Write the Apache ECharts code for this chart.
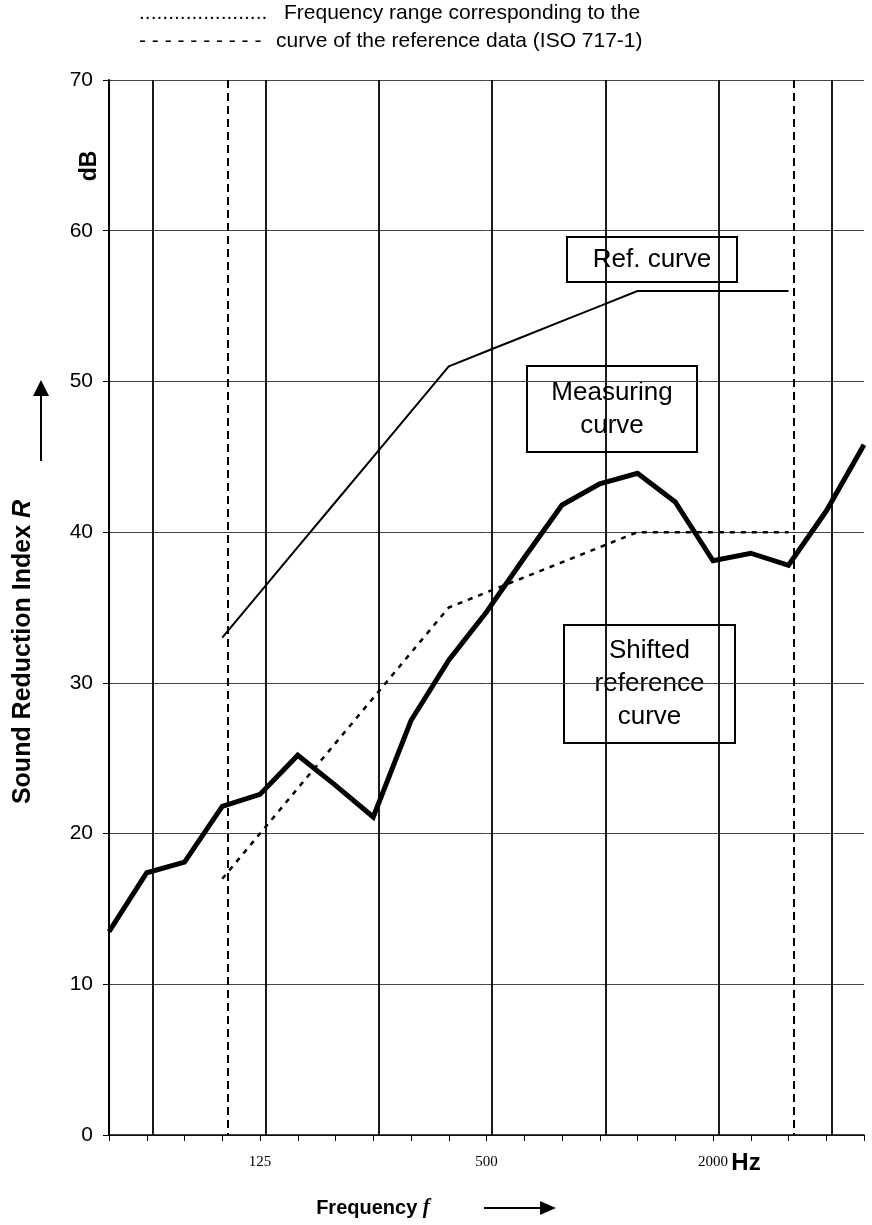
<!DOCTYPE html>
<html lang="en">
<head>
    <meta charset="UTF-8">
    <title>Sound Reduction Index</title>
    <script src="https://cdn.jsdelivr.net/npm/echarts@6/dist/echarts.min.js"></script>
    <style>
        html, body { margin: 0; padding: 0; background: #fff; }
        #main { width: 872px; height: 1225px; }
    </style>
</head>
<body>
    <div id="main"></div>
    <script>
        // 1/3 octave band centre frequencies (Hz)
        var freqs = ['50', '63', '80', '100', '125', '160', '200', '250', '315', '400', '500',
            '630', '800', '1000', '1250', '1600', '2000', '2500', '3150', '4000', '5000'];
        var xLabels = ['125', '500', '2000'];
        var octaveLines = ['63', '125', '250', '500', '1000', '2000', '4000'];
        var rangeLines = ['100', '3150'];

        // measured sound reduction index (dB)
        var measured = [13.5, 17.4, 18.1, 21.8, 22.6, 25.2, 23.2, 21.1, 27.5, 31.5, 34.7,
            38.3, 41.8, 43.2, 43.9, 42.0, 38.1, 38.6, 37.8, 41.4, 45.8];
        // reference curve ISO 717-1
        var refCurve = [null, null, null, 33, 36, 39, 42, 45, 48, 51, 52,
            53, 54, 55, 56, 56, 56, 56, 56, null, null];
        // shifted reference curve
        var shiftedRef = [null, null, null, 17, 20, 23, 26, 29, 32, 35, 36,
            37, 38, 39, 40, 40, 40, 40, 40, null, null];

        var myChart = echarts.init(document.getElementById('main'));

        var sans = 'Liberation Sans, Arial, sans-serif';

        function box(x, y, w, h, text) {
            return {
                type: 'group',
                z: 100,
                children: [{
                    type: 'rect',
                    shape: { x: x, y: y, width: w, height: h },
                    style: { fill: '#fff', stroke: '#000', lineWidth: 2 }
                }, {
                    type: 'text',
                    x: x + w / 2,
                    y: y + h / 2,
                    style: {
                        text: text,
                        align: 'center',
                        verticalAlign: 'middle',
                        fontSize: 26,
                        lineHeight: 33,
                        fontFamily: sans,
                        fill: '#000'
                    }
                }]
            };
        }

        var option = {
            animation: false,
            backgroundColor: '#fff',
            grid: [
                { left: 109, right: 8, top: 80, bottom: 90 },
                { left: 114.5, right: 2.5, top: 80, bottom: 90 }
            ],
            xAxis: [{
                type: 'category',
                gridIndex: 0,
                data: freqs,
                boundaryGap: false,
                axisLine: { lineStyle: { color: '#000', width: 1.5 } },
                axisTick: { show: true, interval: 0, length: 6, lineStyle: { color: '#000', width: 1 } },
                axisLabel: {
                    interval: function (i, v) { return xLabels.indexOf(v) >= 0; },
                    margin: 20,
                    fontSize: 15,
                    fontFamily: 'Liberation Serif, Times New Roman, serif',
                    color: '#000'
                },
                splitLine: { show: false }
            }, {
                type: 'category',
                gridIndex: 1,
                data: freqs,
                boundaryGap: false,
                axisLine: { show: false },
                axisTick: { show: false },
                axisLabel: { show: false },
                splitLine: {
                    show: true,
                    interval: function (i, v) { return octaveLines.indexOf(freqs[i]) >= 0; },
                    lineStyle: { color: '#000', width: 1.8 }
                }
            }, {
                type: 'category',
                gridIndex: 1,
                data: freqs,
                boundaryGap: false,
                axisLine: { show: false },
                axisTick: { show: false },
                axisLabel: { show: false },
                splitLine: {
                    show: true,
                    interval: function (i, v) { return rangeLines.indexOf(freqs[i]) >= 0; },
                    lineStyle: { color: '#000', width: 2, type: [8, 5] }
                }
            }],
            yAxis: [{
                type: 'value',
                gridIndex: 0,
                min: 0,
                max: 70,
                interval: 10,
                axisLine: { show: true, lineStyle: { color: '#000', width: 2 } },
                axisTick: { show: true, length: 6, lineStyle: { color: '#000', width: 1 } },
                axisLabel: { margin: 16, fontSize: 21, fontFamily: sans, color: '#000' },
                splitLine: { show: true, lineStyle: { color: '#444', width: 1 } }
            }, {
                type: 'value',
                gridIndex: 1,
                min: 0,
                max: 70,
                show: false
            }],
            series: [{
                name: 'Measuring curve',
                type: 'line',
                xAxisIndex: 0,
                yAxisIndex: 0,
                data: measured,
                symbol: 'none',
                z: 6,
                lineStyle: { color: '#000', width: 5, join: 'miter' }
            }, {
                name: 'Ref. curve',
                type: 'line',
                xAxisIndex: 0,
                yAxisIndex: 0,
                data: refCurve,
                symbol: 'none',
                z: 5,
                lineStyle: { color: '#000', width: 2 }
            }, {
                name: 'Shifted reference curve',
                type: 'line',
                xAxisIndex: 0,
                yAxisIndex: 0,
                data: shiftedRef,
                symbol: 'none',
                z: 5,
                lineStyle: { color: '#000', width: 2.5, type: [5, 6] }
            }],
            graphic: [
                // top key
                { type: 'text', x: 139, y: 13, style: { text: '......................', fontSize: 21, fontFamily: sans, fill: '#000', verticalAlign: 'middle' } },
                { type: 'text', x: 284, y: 13, style: { text: 'Frequency range corresponding to the', fontSize: 21, fontFamily: sans, fill: '#000', verticalAlign: 'middle' } },
                { type: 'text', x: 139, y: 41, style: { text: '- - - - - - - - - -', fontSize: 21, fontFamily: sans, fill: '#000', verticalAlign: 'middle' } },
                { type: 'text', x: 276, y: 41, style: { text: 'curve of the reference data (ISO 717-1)', fontSize: 21, fontFamily: sans, fill: '#000', verticalAlign: 'middle' } },
                // y axis titles
                {
                    type: 'text', x: 90, y: 166, rotation: Math.PI / 2,
                    style: { text: 'dB', fontSize: 23, fontWeight: 'bold', fontFamily: sans, fill: '#000', align: 'center', verticalAlign: 'middle' }
                },
                {
                    type: 'text', x: 23, y: 652, rotation: Math.PI / 2,
                    style: {
                        text: '{b|Sound Reduction Index }{i|R}',
                        align: 'center', verticalAlign: 'middle',
                        rich: {
                            b: { fontSize: 25, fontWeight: 'bold', fontFamily: sans, fill: '#000' },
                            i: { fontSize: 25, fontWeight: 'bold', fontStyle: 'italic', fontFamily: sans, fill: '#000' }
                        }
                    }
                },
                { type: 'line', shape: { x1: 41, y1: 461, x2: 41, y2: 394 }, style: { stroke: '#000', lineWidth: 2 } },
                { type: 'polygon', shape: { points: [[33, 396], [49, 396], [41, 380]] }, style: { fill: '#000' } },
                // x axis titles
                {
                    type: 'text', x: 746, y: 1163,
                    style: { text: 'Hz', fontSize: 24, fontWeight: 'bold', fontFamily: sans, fill: '#000', align: 'center', verticalAlign: 'middle' }
                },
                {
                    type: 'text', x: 373, y: 1208,
                    style: {
                        text: '{b|Frequency }{i|f}',
                        align: 'center', verticalAlign: 'middle',
                        rich: {
                            b: { fontSize: 20, fontWeight: 'bold', fontFamily: sans, fill: '#000' },
                            i: { fontSize: 21, fontWeight: 'bold', fontStyle: 'italic', fontFamily: 'Liberation Serif, Times New Roman, serif', fill: '#000' }
                        }
                    }
                },
                { type: 'line', shape: { x1: 484, y1: 1208, x2: 542, y2: 1208 }, style: { stroke: '#000', lineWidth: 2 } },
                { type: 'polygon', shape: { points: [[540, 1201], [540, 1215], [556, 1208]] }, style: { fill: '#000' } },
                // annotation boxes
                box(567, 237, 170, 45, 'Ref. curve'),
                box(527, 366, 170, 86, 'Measuring\ncurve'),
                box(564, 625, 171, 118, 'Shifted\nreference\ncurve')
            ]
        };

        myChart.setOption(option);
    </script>
</body>
</html>
